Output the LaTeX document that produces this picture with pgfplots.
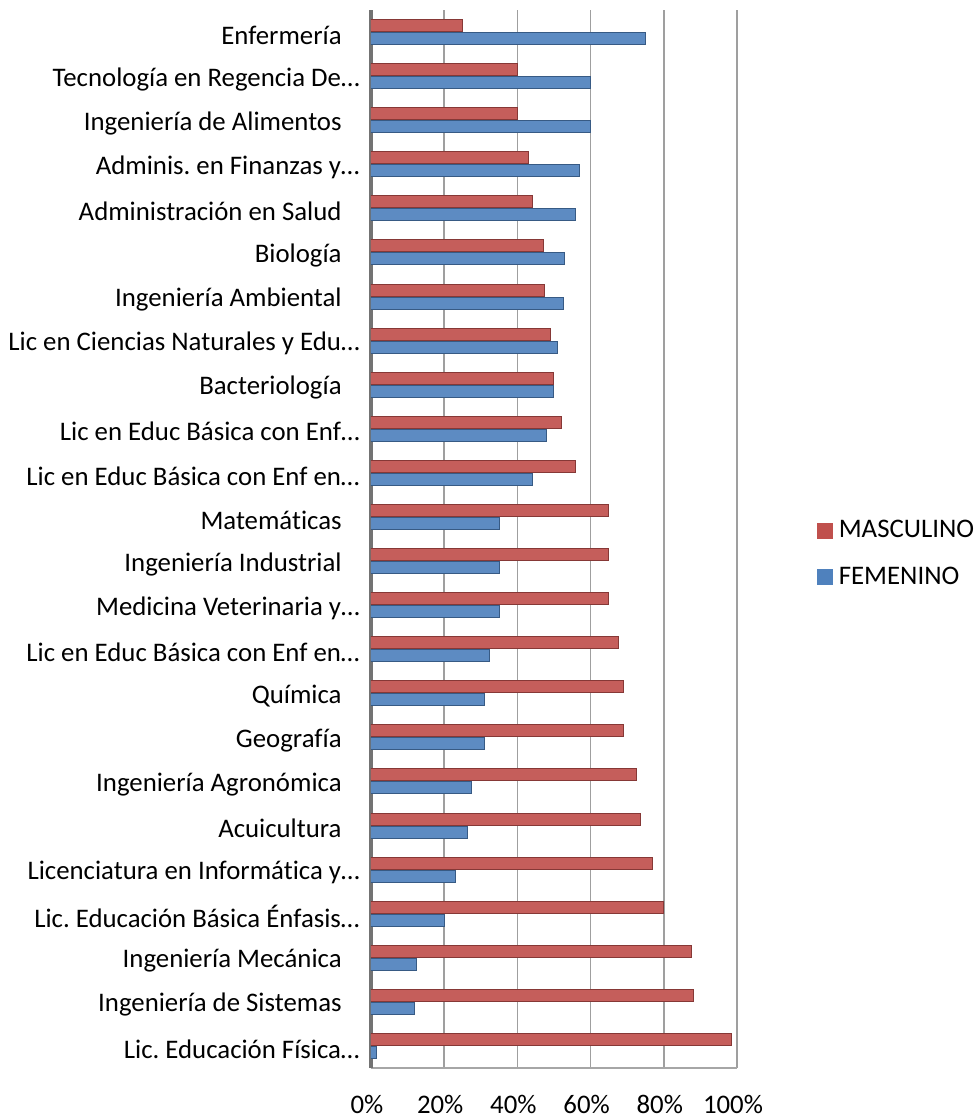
\documentclass[border=0pt]{standalone}
\usepackage{pgfplots}
\pgfplotsset{compat=1.18}
\usepackage{fontspec}
\setmainfont[Ligatures=NoCommon]{Carlito}
\frenchspacing
\definecolor{mred}{HTML}{C0504D}
\definecolor{mblue}{HTML}{4F81BD}
\pgfplotstableread{
idx masc fem
0 98.5 1.5
1 88 12
2 87.5 12.5
3 80 20
4 77 23
5 73.5 26.5
6 72.5 27.5
7 69 31
8 69 31
9 67.5 32.5
10 65 35
11 65 35
12 65 35
13 56 44
14 52 48
15 50 50
16 49 51
17 47.5 52.5
18 47 53
19 44 56
20 43 57
21 40 60
22 40 60
23 25 75
}\datatable
\newcommand{\tsp}{\hspace*{9pt}}
\begin{document}
\begin{tikzpicture}
\begin{axis}[
  at={(0,0)}, anchor=south west,
  scale only axis, width=183pt, height=529pt,
  xmin=0, xmax=100, ymin=-0.5, ymax=23.5,
  enlargelimits=false,
  axis x line*=bottom, axis y line*=left,
  x axis line style={draw=gray!70, line width=1pt, -},
  y axis line style={draw=gray!90!black, line width=1.6pt, -},
  major tick length=0pt,
  xtick={0,20,40,60,80,100},
  xticklabels={0\%,20\%,40\%,60\%,80\%,100\%},
  xticklabel style={anchor=base, yshift=-22.5pt, xshift=-2pt, font=\fontsize{13.4}{16}\selectfont},
  ytick={0,...,23},
  yticklabels={
    Lic. Educación Física…,
    Ingeniería de Sistemas\tsp,
    Ingeniería Mecánica\tsp,
    Lic. Educación Básica Énfasis…,
    Licenciatura en Informática y…,
    Acuicultura\tsp,
    Ingeniería Agronómica\tsp,
    Geografía\tsp,
    Química\tsp,
    Lic en Educ Básica con Enf en…,
    Medicina Veterinaria y…,
    Ingeniería Industrial\tsp,
    Matemáticas\tsp,
    Lic en Educ Básica con Enf en…,
    Lic en Educ Básica con Enf…,
    Bacteriología\tsp,
    Lic en Ciencias Naturales y Edu…,
    Ingeniería Ambiental\tsp,
    Biología\tsp,
    Administración en Salud\tsp,
    Adminis. en Finanzas y…,
    Ingeniería de Alimentos\tsp,
    Tecnología en Regencia De…,
    Enfermería\tsp},
  yticklabel style={anchor=east, inner sep=0pt, xshift=-5.5pt, yshift=-1.5pt, font=\fontsize{13.4}{16}\selectfont},
  xmajorgrids, grid style={draw=gray!75, line width=0.8pt},
  legend style={at={(1.217,0.486)}, anchor=west, draw=none, fill=none,
    font=\fontsize{13.4}{16}\selectfont, row sep=9pt, inner sep=0pt,
    /tikz/every odd column/.append style={column sep=1pt}},
  legend cell align=left,
]
\addplot[xbar, bar width=6pt, bar shift=3.25pt, draw=mred!70!black, line width=0.5pt,
  fill=mred!92!white,
  legend image code/.code={\fill[mred] (0pt,-3.75pt) rectangle (7.5pt,3.75pt);}]
  table[x=masc, y=idx] {\datatable};
\addlegendentry{MASCULINO}
\addplot[xbar, bar width=6pt, bar shift=-3.25pt, draw=mblue!70!black, line width=0.5pt,
  fill=mblue!92!white,
  legend image code/.code={\fill[mblue] (0pt,-3.75pt) rectangle (7.5pt,3.75pt);}]
  table[x=fem, y=idx] {\datatable};
\addlegendentry{FEMENINO}
\end{axis}
\pgfresetboundingbox
\useasboundingbox (-185.5pt,-25pt) rectangle (303.5pt,534pt);
\end{tikzpicture}
\end{document}
